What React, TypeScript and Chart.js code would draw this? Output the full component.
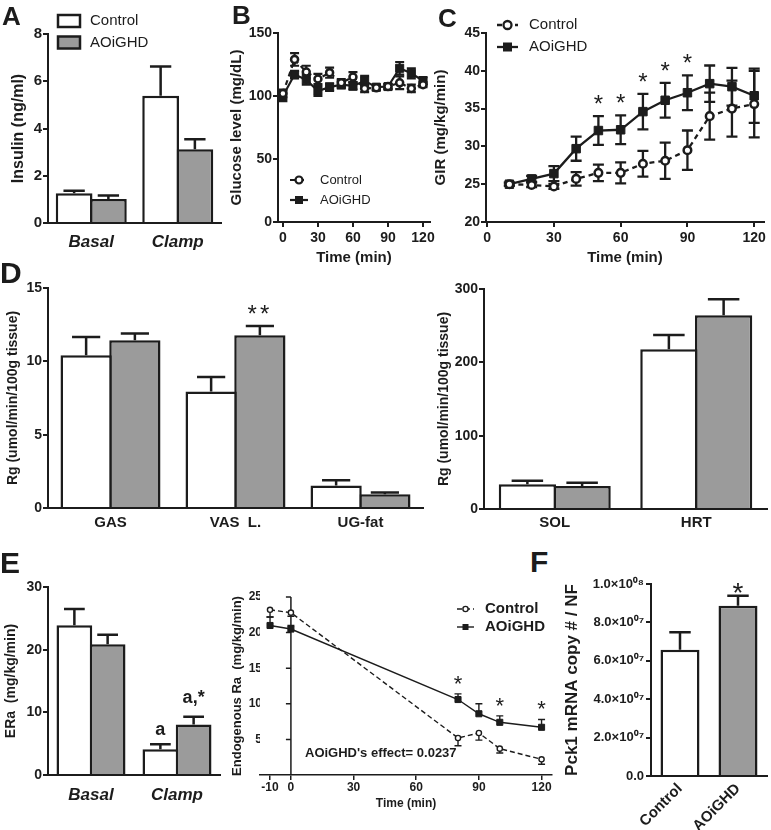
import React, { useEffect, useRef } from 'react';
import { Chart, registerables } from 'chart.js';

Chart.register(...registerables);

const FONT = '"Liberation Sans", Arial, Helvetica, sans-serif';
const INK = '#1c1c1c';
const GREY = '#9b9b9b';
const WHITE = '#ffffff';
const BAR_BORDER = 2.5;
Chart.defaults.font.family = FONT;
Chart.defaults.color = INK;

// ---------------- data ----------------
const SERIES = ['Control', 'AOiGHD'];

// A: insulin
const A_CATEGORIES = ['Basal', 'Clamp'];
const A_CONTROL = [1.26, 5.39];
const A_CONTROL_SEM = [0.11, 1.23];
const A_AOIGHD = [1.02, 3.12];
const A_AOIGHD_SEM = [0.14, 0.43];
const A_Y_TICKS = [0, 2, 4, 6, 8];

// B: glucose level
const B_TIME = [0, 10, 20, 30, 40, 50, 60, 70, 80, 90, 100, 110, 120];
const B_CONTROL = [102, 129, 119, 113.5, 118.5, 110.5, 115, 106, 106.5, 107.5, 110.5, 106, 109];
const B_CONTROL_SEM = [3, 5, 5, 4, 4, 3, 4, 3, 2, 2, 5, 3, 2];
const B_AOIGHD = [100, 117, 113, 104, 107, 109, 108, 112, 107, 107.5, 122, 118, 112];
const B_AOIGHD_SEM = [4, 3, 4, 4, 3, 3, 3, 4, 2, 2, 5, 4, 3];
const B_X_TICKS = [0, 30, 60, 90, 120];
const B_Y_TICKS = [0, 50, 100, 150];

// C: glucose infusion rate
const C_TIME = [10, 20, 30, 40, 50, 60, 70, 80, 90, 100, 110, 120];
const C_CONTROL = [25.0, 24.9, 24.7, 25.7, 26.5, 26.5, 27.7, 28.1, 29.5, 34.0, 35.0, 35.6];
const C_CONTROL_SEM = [0.2, 0.3, 0.3, 0.9, 1.1, 1.4, 1.7, 2.4, 2.6, 3.1, 3.7, 4.4];
const C_AOIGHD = [25.0, 25.7, 26.4, 29.7, 32.1, 32.2, 34.6, 36.1, 37.1, 38.3, 37.9, 36.7];
const C_AOIGHD_SEM = [0.2, 0.4, 1.0, 1.6, 1.9, 1.9, 2.35, 2.3, 2.3, 2.4, 2.5, 3.6];
const C_SIGNIFICANCE = ['', '', '', '', '*', '*', '*', '*', '*', '', '', ''];
const C_X_TICKS = [0, 30, 60, 90, 120];
const C_Y_TICKS = [20, 25, 30, 35, 40, 45];

// D: tissue glucose uptake
const D1_CATEGORIES = ['GAS', 'VAS  L.', 'UG-fat'];
const D1_CONTROL = [10.41, 7.95, 1.53];
const D1_CONTROL_SEM = [1.25, 0.98, 0.36];
const D1_AOIGHD = [11.43, 11.77, 0.93];
const D1_AOIGHD_SEM = [0.46, 0.64, 0.12];
const D1_SIGNIFICANCE = ['', '**', ''];
const D1_Y_TICKS = [0, 5, 10, 15];

const D2_CATEGORIES = ['SOL', 'HRT'];
const D2_CONTROL = [33.6, 217.8];
const D2_CONTROL_SEM = [5.0, 19.5];
const D2_AOIGHD = [31.4, 264.1];
const D2_AOIGHD_SEM = [4.5, 21.9];
const D2_Y_TICKS = [0, 100, 200, 300];

// E: endogenous glucose production
const E1_CATEGORIES = ['Basal', 'Clamp'];
const E1_CONTROL = [23.9, 4.09];
const E1_CONTROL_SEM = [2.6, 0.8];
const E1_AOIGHD = [20.86, 8.07];
const E1_AOIGHD_SEM = [1.54, 1.21];
const E1_CONTROL_MARKS = ['', 'a'];
const E1_AOIGHD_MARKS = ['', 'a,*'];
const E1_Y_TICKS = [0, 10, 20, 30];

const E2_TIME = [-10, 0, 80, 90, 100, 120];
const E2_CONTROL = [23.2, 22.8, 5.2, 5.9, 3.7, 2.2];
const E2_CONTROL_SEM = [1.0, 0.5, 1.1, 1.0, 0.6, 0.7];
const E2_AOIGHD = [21.0, 20.5, 10.6, 8.6, 7.4, 6.7];
const E2_AOIGHD_SEM = [1.2, 0.5, 0.8, 1.4, 0.9, 1.1];
const E2_SIGNIFICANCE = ['', '', '*', '', '*', '*'];
const E2_X_TICKS = [-10, 0, 30, 60, 90, 120];
const E2_Y_TICKS = [5, 10, 15, 20, 25];
const E2_NOTE = "AOiGHD's effect= 0.0237";

// F: Pck1 expression
const F_CATEGORIES = ['Control', 'AOiGHD'];
const F_VALUES = [6.57e7, 8.87e7];
const F_SEM = [0.92e7, 0.52e7];
const F_SIGNIFICANCE = ['', '*'];
const F_Y_TICKS = [0, 2e7, 4e7, 6e7, 8e7, 1e8];
const F_Y_LABELS = ['0.0', '2.0×10⁰⁷', '4.0×10⁰⁷', '6.0×10⁰⁷', '8.0×10⁰⁷', '1.0×10⁰⁸'];

// ---------------- layout ----------------
type Box = { left: number; top: number; right: number; bottom: number };
type Area = { l: number; t: number; r: number; b: number };

const LAYOUT: Record<string, { canvas: Box; area: Area }> = {
  A: { canvas: { left: 9, top: 0, right: 231, bottom: 258 }, area: { l: 48, t: 34, r: 221, b: 223 } },
  B: { canvas: { left: 228, top: 0, right: 438, bottom: 267 }, area: { l: 278, t: 33, r: 432, b: 222 } },
  C: { canvas: { left: 432, top: 0, right: 771, bottom: 267 }, area: { l: 486, t: 33, r: 768, b: 222 } },
  D1: { canvas: { left: 5, top: 270, right: 430, bottom: 540 }, area: { l: 48, t: 288, r: 423, b: 508 } },
  D2: { canvas: { left: 436, top: 270, right: 771, bottom: 540 }, area: { l: 484, t: 289, r: 767, b: 509 } },
  E1: { canvas: { left: 3, top: 560, right: 228, bottom: 820 }, area: { l: 48, t: 587, r: 220, b: 775 } },
  E2: { canvas: { left: 230, top: 580, right: 560, bottom: 811 }, area: { l: 260, t: 597, r: 552, b: 775 } },
  F: { canvas: { left: 562, top: 565, right: 771, bottom: 830 }, area: { l: 651, t: 584, r: 767, b: 776 } },
};

const LETTERS = [
  { t: 'A', x: 2, y: 6, s: 26 },
  { t: 'B', x: 232, y: 5, s: 26 },
  { t: 'C', x: 438, y: 8, s: 26 },
  { t: 'D', x: 0, y: 262, s: 30 },
  { t: 'E', x: 0, y: 552, s: 30 },
  { t: 'F', x: 530, y: 551, s: 30 },
];

function geometry(key: string) {
  const { canvas, area } = LAYOUT[key];
  return {
    box: canvas,
    area,
    padding: { left: 0, top: area.t - canvas.top, right: canvas.right - area.r, bottom: 0 },
    yWidth: area.l - canvas.left,
    xHeight: canvas.bottom - area.b,
  };
}
type Geo = ReturnType<typeof geometry>;

const fnt = (size: number, weight = 'bold', style = 'normal') => ({ family: FONT, size, weight, style });
const css = (size: number, weight = 'bold', style = 'normal') => `${style} ${weight} ${size}px ${FONT}`;

function valueOf(raw: any): number {
  return typeof raw === 'number' ? raw : raw.y;
}

// ---------------- plugins ----------------
function errorBarPlugin(cfg: { lineWidth: number; cap?: number; capRatio?: number; under?: boolean }) {
  const draw = (chart: any) => {
    const ctx = chart.ctx;
    chart.data.datasets.forEach((ds: any, di: number) => {
      if (!ds.errors) return;
      const meta = chart.getDatasetMeta(di);
      const ys = chart.scales[meta.yAxisID];
      ctx.save();
      ctx.strokeStyle = INK;
      ctx.lineWidth = cfg.lineWidth;
      ctx.setLineDash([]);
      meta.data.forEach((el: any, i: number) => {
        const e = ds.errors[i];
        if (!e) return;
        const v = valueOf(ds.data[i]);
        const dir = ds.errorDirection || 'up';
        const x = el.x;
        const y0 = ys.getPixelForValue(v);
        const half = (cfg.capRatio ? el.width * cfg.capRatio : cfg.cap || 8) / 2;
        ctx.beginPath();
        if (dir === 'up' || dir === 'both') {
          const y1 = ys.getPixelForValue(v + e);
          ctx.moveTo(x, y0);
          ctx.lineTo(x, y1);
          ctx.moveTo(x - half, y1);
          ctx.lineTo(x + half, y1);
        }
        if (dir === 'down' || dir === 'both') {
          const y2 = ys.getPixelForValue(v - e);
          ctx.moveTo(x, y0);
          ctx.lineTo(x, y2);
          ctx.moveTo(x - half, y2);
          ctx.lineTo(x + half, y2);
        }
        ctx.stroke();
      });
      ctx.restore();
    });
  };
  return {
    id: 'errorBars',
    beforeDatasetsDraw(chart: any) {
      if (cfg.under) draw(chart);
    },
    afterDatasetsDraw(chart: any) {
      if (!cfg.under) draw(chart);
    },
  };
}

function marksPlugin(cfg: { font: string; gap: number; letterSpacing?: string }) {
  return {
    id: 'sigMarks',
    afterDatasetsDraw(chart: any) {
      const ctx = chart.ctx;
      chart.data.datasets.forEach((ds: any, di: number) => {
        if (!ds.marks) return;
        const meta = chart.getDatasetMeta(di);
        const ys = chart.scales[meta.yAxisID];
        ctx.save();
        ctx.font = cfg.font;
        ctx.fillStyle = INK;
        ctx.textAlign = 'center';
        ctx.textBaseline = 'alphabetic';
        if (cfg.letterSpacing) (ctx as any).letterSpacing = cfg.letterSpacing;
        meta.data.forEach((el: any, i: number) => {
          const t = ds.marks[i];
          if (!t) return;
          const v = valueOf(ds.data[i]);
          const up = ds.errorDirection === 'down' ? 0 : (ds.errors && ds.errors[i]) || 0;
          const top = ys.getPixelForValue(v + up);
          const gap = ds.markGap !== undefined ? ds.markGap : cfg.gap;
          ctx.fillText(t, el.x, top - gap);
        });
        ctx.restore();
      });
    },
  };
}

type LegendRow = { label: string; swatch: 'box' | 'line'; fill: string; dash?: number[]; point?: 'circle' | 'rect' };
function legendPlugin(
  rows: LegendRow[],
  box: Box,
  L: { x: number; x2: number; textX: number; y0: number; rowGap: number; font: string; lineWidth: number; boxH?: number; pointR?: number; rectSide?: number }
) {
  return {
    id: 'panelLegend',
    afterDraw(chart: any) {
      const ctx = chart.ctx;
      ctx.save();
      rows.forEach((row, k) => {
        const cy = L.y0 + k * L.rowGap - box.top;
        const x1 = L.x - box.left;
        const x2 = L.x2 - box.left;
        ctx.strokeStyle = INK;
        ctx.lineWidth = L.lineWidth;
        ctx.setLineDash([]);
        if (row.swatch === 'box') {
          const h = L.boxH || 12;
          ctx.fillStyle = row.fill;
          ctx.fillRect(x1, cy - h / 2, x2 - x1, h);
          ctx.strokeRect(x1, cy - h / 2, x2 - x1, h);
        } else {
          ctx.setLineDash(row.dash || []);
          ctx.beginPath();
          ctx.moveTo(x1, cy);
          ctx.lineTo(x2, cy);
          ctx.stroke();
          ctx.setLineDash([]);
          const cx = (x1 + x2) / 2;
          if (row.point === 'circle') {
            ctx.beginPath();
            ctx.arc(cx, cy, L.pointR || 3.5, 0, Math.PI * 2);
            ctx.fillStyle = WHITE;
            ctx.fill();
            ctx.stroke();
          } else {
            const s = L.rectSide || 8;
            ctx.fillStyle = INK;
            ctx.fillRect(cx - s / 2, cy - s / 2, s, s);
          }
        }
        ctx.fillStyle = INK;
        ctx.font = L.font;
        ctx.textAlign = 'left';
        ctx.textBaseline = 'middle';
        ctx.fillText(row.label, L.textX - box.left, cy);
      });
      ctx.restore();
    },
  };
}

function notePlugin(text: string, box: Box, x: number, y: number, font: string) {
  return {
    id: 'note',
    afterDraw(chart: any) {
      const ctx = chart.ctx;
      ctx.save();
      ctx.font = font;
      ctx.fillStyle = INK;
      ctx.textAlign = 'left';
      ctx.textBaseline = 'middle';
      ctx.fillText(text, x - box.left, y - box.top);
      ctx.restore();
    },
  };
}

function zeroAxisPlugin(ticks: number[], lineWidth: number) {
  return {
    id: 'zeroAxis',
    beforeDatasetsDraw(chart: any) {
      const { ctx } = chart;
      const xs = chart.scales.x;
      const ys = chart.scales.y;
      const px = xs.getPixelForValue(0);
      ctx.save();
      ctx.strokeStyle = INK;
      ctx.lineWidth = lineWidth;
      ctx.beginPath();
      ctx.moveTo(px, ys.getPixelForValue(ys.min));
      ctx.lineTo(px, ys.getPixelForValue(ys.max));
      ticks.forEach((v) => {
        const py = ys.getPixelForValue(v);
        ctx.moveTo(px - 5, py);
        ctx.lineTo(px, py);
      });
      ctx.stroke();
      ctx.restore();
    },
  };
}

// ---------------- builders ----------------
function baseOptions(G: Geo) {
  return {
    responsive: false,
    maintainAspectRatio: false,
    animation: false,
    events: [],
    layout: { padding: G.padding },
    plugins: { legend: { display: false }, tooltip: { enabled: false }, title: { display: false } },
  };
}

function linearY(G: Geo, o: { min: number; max: number; ticks: number[]; labels?: string[]; title: string; tickSize: number; titleSize: number; pad: number; lw: number }) {
  return {
    type: 'linear',
    position: 'left',
    min: o.min,
    max: o.max,
    afterBuildTicks: (s: any) => {
      s.ticks = o.ticks.map((v) => ({ value: v }));
    },
    afterFit: (s: any) => {
      s.width = G.yWidth;
    },
    border: { display: true, color: INK, width: o.lw },
    grid: { display: true, drawOnChartArea: false, drawTicks: true, tickLength: 5, color: INK, lineWidth: o.lw },
    ticks: {
      color: INK,
      padding: o.pad,
      font: fnt(o.tickSize),
      callback: o.labels ? (_v: any, i: number) => o.labels![i] : (v: any) => String(v),
    },
    title: { display: true, text: o.title, color: INK, padding: 0, font: fnt(o.titleSize) },
  };
}

function linearX(G: Geo, o: { min: number; max: number; ticks: number[]; title: string; tickSize: number; titleSize: number; pad: number; lw: number }) {
  return {
    type: 'linear',
    position: 'bottom',
    min: o.min,
    max: o.max,
    afterBuildTicks: (s: any) => {
      s.ticks = o.ticks.map((v) => ({ value: v }));
    },
    afterFit: (s: any) => {
      s.height = G.xHeight;
    },
    border: { display: true, color: INK, width: o.lw },
    grid: { display: true, drawOnChartArea: false, drawTicks: true, tickLength: 5, color: INK, lineWidth: o.lw },
    ticks: { color: INK, padding: o.pad, maxRotation: 0, autoSkip: false, font: fnt(o.tickSize), callback: (v: any) => String(v) },
    title: { display: true, text: o.title, color: INK, padding: 0, font: fnt(o.titleSize) },
  };
}

function categoryX(G: Geo, o: { font: any; pad: number; rotation?: number }) {
  return {
    type: 'category',
    position: 'bottom',
    afterFit: (s: any) => {
      s.height = G.xHeight;
    },
    border: { display: true, color: INK, width: 2 },
    grid: { display: false, drawTicks: false },
    ticks: { color: INK, padding: o.pad, autoSkip: false, minRotation: o.rotation || 0, maxRotation: o.rotation || 0, font: o.font },
  };
}

function barFit(G: Geo, nCats: number, groupW: number, nBars: number) {
  const catW = (G.area.r - G.area.l) / nCats;
  const inner = groupW - BAR_BORDER;
  const slot = inner / nBars;
  return { categoryPercentage: inner / catW, barPercentage: (slot + BAR_BORDER) / slot };
}

function barDataset(label: string, data: number[], errors: number[], color: any, fit: any, marks?: string[], markGap?: number) {
  return {
    label,
    data,
    errors,
    errorDirection: 'up',
    marks,
    markGap,
    backgroundColor: color,
    borderColor: INK,
    borderWidth: BAR_BORDER,
    ...fit,
  };
}

function lineStyle(dashed: boolean, lw: number, point: 'circle' | 'rect', r: number, pbw: number, dash: number[]) {
  return {
    borderColor: INK,
    borderWidth: lw,
    borderDash: dashed ? dash : [],
    pointStyle: point,
    pointRadius: r,
    pointBorderWidth: pbw,
    pointBorderColor: INK,
    pointBackgroundColor: point === 'circle' ? WHITE : INK,
    tension: 0,
    fill: false,
  };
}

function lineDataset(label: string, xs: number[], ys: number[], errors: number[], dir: string, style: any, marks?: string[]) {
  return {
    label,
    data: xs.map((x, i) => ({ x, y: ys[i] })),
    errors,
    errorDirection: dir,
    marks,
    ...style,
  };
}

const BOX_ROWS: LegendRow[] = [
  { label: SERIES[0], swatch: 'box', fill: WHITE },
  { label: SERIES[1], swatch: 'box', fill: GREY },
];
const LINE_ROWS = (dash: number[]): LegendRow[] => [
  { label: SERIES[0], swatch: 'line', fill: WHITE, dash, point: 'circle' },
  { label: SERIES[1], swatch: 'line', fill: INK, point: 'rect' },
];

function buildA() {
  const G = geometry('A');
  const fit = barFit(G, 2, 71, 2);
  return {
    type: 'bar',
    data: {
      labels: A_CATEGORIES,
      datasets: [barDataset(SERIES[0], A_CONTROL, A_CONTROL_SEM, WHITE, fit), barDataset(SERIES[1], A_AOIGHD, A_AOIGHD_SEM, GREY, fit)],
    },
    options: {
      ...baseOptions(G),
      scales: {
        x: categoryX(G, { font: fnt(17, 'bold', 'italic'), pad: 9 }),
        y: linearY(G, { min: 0, max: 8, ticks: A_Y_TICKS, title: 'Insulin (ng/ml)', tickSize: 15, titleSize: 16, pad: 1, lw: 2 }),
      },
    },
    plugins: [
      errorBarPlugin({ lineWidth: 2.5, capRatio: 0.58 }),
      legendPlugin(BOX_ROWS, G.box, { x: 58, x2: 80, textX: 90, y0: 21, rowGap: 21.5, font: css(15, 'normal'), lineWidth: 2.5, boxH: 12 }),
    ],
  };
}

function buildB() {
  const G = geometry('B');
  const dash = [5, 4];
  return {
    type: 'line',
    data: {
      datasets: [
        lineDataset(SERIES[0], B_TIME, B_CONTROL, B_CONTROL_SEM, 'both', lineStyle(true, 2.2, 'circle', 3.5, 2.5, dash)),
        lineDataset(SERIES[1], B_TIME, B_AOIGHD, B_AOIGHD_SEM, 'both', lineStyle(false, 2.2, 'rect', 5.7, 1, dash)),
      ],
    },
    options: {
      ...baseOptions(G),
      scales: {
        x: linearX(G, { min: -4.2, max: 125.9, ticks: B_X_TICKS, title: 'Time (min)', tickSize: 14, titleSize: 15, pad: 3, lw: 2 }),
        y: linearY(G, { min: 0, max: 150, ticks: B_Y_TICKS, title: 'Glucose level (mg/dL)', tickSize: 14, titleSize: 15, pad: 1, lw: 2 }),
      },
    },
    plugins: [
      errorBarPlugin({ lineWidth: 2.2, cap: 9, under: true }),
      legendPlugin(LINE_ROWS(dash), G.box, { x: 290, x2: 308, textX: 320, y0: 180, rowGap: 20, font: css(13, 'normal'), lineWidth: 2.2, pointR: 3.5, rectSide: 8 }),
    ],
  };
}

function buildC() {
  const G = geometry('C');
  const dash = [5, 4];
  return {
    type: 'line',
    data: {
      datasets: [
        lineDataset(SERIES[0], C_TIME, C_CONTROL, C_CONTROL_SEM, 'both', lineStyle(true, 2.3, 'circle', 3.8, 2.5, dash)),
        lineDataset(SERIES[1], C_TIME, C_AOIGHD, C_AOIGHD_SEM, 'both', lineStyle(false, 2.3, 'rect', 6, 1, dash), C_SIGNIFICANCE),
      ],
    },
    options: {
      ...baseOptions(G),
      scales: {
        x: linearX(G, { min: -0.5, max: 124.4, ticks: C_X_TICKS, title: 'Time (min)', tickSize: 14, titleSize: 15, pad: 3, lw: 2 }),
        y: linearY(G, { min: 20, max: 45, ticks: C_Y_TICKS, title: 'GIR (mg/kg/min)', tickSize: 14, titleSize: 15, pad: 1, lw: 2 }),
      },
    },
    plugins: [
      errorBarPlugin({ lineWidth: 2.3, cap: 11, under: true }),
      marksPlugin({ font: css(24, 'normal'), gap: 4 }),
      legendPlugin(LINE_ROWS(dash), G.box, { x: 497, x2: 518, textX: 529, y0: 25, rowGap: 22, font: css(15, 'normal'), lineWidth: 2.3, pointR: 4, rectSide: 9 }),
    ],
  };
}

function buildD1() {
  const G = geometry('D1');
  const fit = barFit(G, 3, 100, 2);
  return {
    type: 'bar',
    data: {
      labels: D1_CATEGORIES,
      datasets: [
        barDataset(SERIES[0], D1_CONTROL, D1_CONTROL_SEM, WHITE, fit),
        barDataset(SERIES[1], D1_AOIGHD, D1_AOIGHD_SEM, GREY, fit, D1_SIGNIFICANCE),
      ],
    },
    options: {
      ...baseOptions(G),
      scales: {
        x: categoryX(G, { font: fnt(15), pad: 6 }),
        y: linearY(G, { min: 0, max: 15, ticks: D1_Y_TICKS, title: 'Rg (umol/min/100g tissue)', tickSize: 14, titleSize: 14, pad: 1, lw: 2 }),
      },
    },
    plugins: [errorBarPlugin({ lineWidth: 2.5, capRatio: 0.55 }), marksPlugin({ font: css(24, 'normal'), gap: 4, letterSpacing: '3px' })],
  };
}

function buildD2() {
  const G = geometry('D2');
  const fit = barFit(G, 2, 112, 2);
  return {
    type: 'bar',
    data: {
      labels: D2_CATEGORIES,
      datasets: [barDataset(SERIES[0], D2_CONTROL, D2_CONTROL_SEM, WHITE, fit), barDataset(SERIES[1], D2_AOIGHD, D2_AOIGHD_SEM, GREY, fit)],
    },
    options: {
      ...baseOptions(G),
      scales: {
        x: categoryX(G, { font: fnt(15), pad: 5 }),
        y: linearY(G, { min: 0, max: 300, ticks: D2_Y_TICKS, title: 'Rg (umol/min/100g tissue)', tickSize: 14, titleSize: 14, pad: 1, lw: 2 }),
      },
    },
    plugins: [errorBarPlugin({ lineWidth: 2.5, capRatio: 0.55 })],
  };
}

function buildE1() {
  const G = geometry('E1');
  const fit = barFit(G, 2, 69, 2);
  return {
    type: 'bar',
    data: {
      labels: E1_CATEGORIES,
      datasets: [
        barDataset(SERIES[0], E1_CONTROL, E1_CONTROL_SEM, WHITE, fit, E1_CONTROL_MARKS, 9),
        barDataset(SERIES[1], E1_AOIGHD, E1_AOIGHD_SEM, GREY, fit, E1_AOIGHD_MARKS, 14),
      ],
    },
    options: {
      ...baseOptions(G),
      scales: {
        x: categoryX(G, { font: fnt(17, 'bold', 'italic'), pad: 10 }),
        y: linearY(G, { min: 0, max: 30, ticks: E1_Y_TICKS, title: 'ERa  (mg/kg/min)', tickSize: 14, titleSize: 14, pad: 1, lw: 2 }),
      },
    },
    plugins: [errorBarPlugin({ lineWidth: 2.5, capRatio: 0.58 }), marksPlugin({ font: css(18), gap: 10 })],
  };
}

function buildE2() {
  const G = geometry('E2');
  const dash = [5, 3];
  return {
    type: 'line',
    data: {
      datasets: [
        lineDataset(SERIES[0], E2_TIME, E2_CONTROL, E2_CONTROL_SEM, 'down', lineStyle(true, 1.4, 'circle', 2.6, 1.4, dash)),
        lineDataset(SERIES[1], E2_TIME, E2_AOIGHD, E2_AOIGHD_SEM, 'up', lineStyle(false, 1.4, 'rect', 4.3, 1, dash), E2_SIGNIFICANCE),
      ],
    },
    options: {
      ...baseOptions(G),
      scales: {
        x: linearX(G, { min: -14.8, max: 125, ticks: E2_X_TICKS, title: 'Time (min)', tickSize: 12, titleSize: 12, pad: 0, lw: 1.5 }),
        y: {
          type: 'linear',
          position: 'left',
          min: 0,
          max: 25,
          afterBuildTicks: (s: any) => {
            s.ticks = E2_Y_TICKS.map((v) => ({ value: v }));
          },
          afterFit: (s: any) => {
            s.width = G.yWidth;
          },
          border: { display: false },
          grid: { display: false, drawTicks: false },
          ticks: { color: INK, padding: -2, font: fnt(12), callback: (v: any) => String(v) },
          title: { display: true, text: 'Endogenous Ra  (mg/kg/min)', color: INK, padding: 0, font: fnt(13) },
        },
      },
    },
    plugins: [
      zeroAxisPlugin(E2_Y_TICKS, 1.5),
      errorBarPlugin({ lineWidth: 1.4, cap: 7, under: true }),
      marksPlugin({ font: css(22, 'normal'), gap: 3 }),
      notePlugin(E2_NOTE, G.box, 305, 753, css(13)),
      legendPlugin(LINE_ROWS(dash), G.box, { x: 457, x2: 474, textX: 485, y0: 609, rowGap: 18, font: css(15), lineWidth: 1.4, pointR: 2.6, rectSide: 6 }),
    ],
  };
}

function buildF() {
  const G = geometry('F');
  const catW = (G.area.r - G.area.l) / 2;
  return {
    type: 'bar',
    data: {
      labels: F_CATEGORIES,
      datasets: [
        {
          label: 'Pck1',
          data: F_VALUES,
          errors: F_SEM,
          errorDirection: 'up',
          marks: F_SIGNIFICANCE,
          backgroundColor: [WHITE, GREY],
          borderColor: INK,
          borderWidth: BAR_BORDER,
          categoryPercentage: 39 / catW,
          barPercentage: 1,
        },
      ],
    },
    options: {
      ...baseOptions(G),
      scales: {
        x: categoryX(G, { font: fnt(15), pad: 4, rotation: 45 }),
        y: linearY(G, { min: 0, max: 1e8, ticks: F_Y_TICKS, labels: F_Y_LABELS, title: 'Pck1 mRNA copy # / NF', tickSize: 13, titleSize: 17, pad: 2, lw: 2 }),
      },
    },
    plugins: [errorBarPlugin({ lineWidth: 2.5, capRatio: 0.55 }), marksPlugin({ font: css(28, 'normal'), gap: -6 })],
  };
}

// ---------------- components ----------------
function ChartCanvas({ box, build }: { box: Box; build: () => any }) {
  const ref = useRef<HTMLCanvasElement | null>(null);
  useEffect(() => {
    const chart = new Chart(ref.current as HTMLCanvasElement, build());
    return () => chart.destroy();
  }, []);
  const w = box.right - box.left;
  const h = box.bottom - box.top;
  return (
    <canvas
      ref={ref}
      width={w}
      height={h}
      style={{ position: 'absolute', left: box.left, top: box.top, width: w, height: h, display: 'block' }}
    />
  );
}

const PANELS: { key: string; build: () => any }[] = [
  { key: 'A', build: buildA },
  { key: 'B', build: buildB },
  { key: 'C', build: buildC },
  { key: 'D1', build: buildD1 },
  { key: 'D2', build: buildD2 },
  { key: 'E1', build: buildE1 },
  { key: 'E2', build: buildE2 },
  { key: 'F', build: buildF },
];

export default function App() {
  return (
    <div style={{ position: 'absolute', left: 0, top: 0, width: 771, height: 830, background: '#fff', overflow: 'hidden' }}>
      {PANELS.map((p) => (
        <ChartCanvas key={p.key} box={LAYOUT[p.key].canvas} build={p.build} />
      ))}
      {LETTERS.map((l) => (
        <div
          key={l.t}
          style={{
            position: 'absolute',
            left: l.x,
            top: l.y - 0.13 * l.s,
            fontFamily: FONT,
            fontWeight: 'bold',
            fontSize: l.s,
            lineHeight: `${l.s}px`,
            color: INK,
          }}
        >
          {l.t}
        </div>
      ))}
    </div>
  );
}
